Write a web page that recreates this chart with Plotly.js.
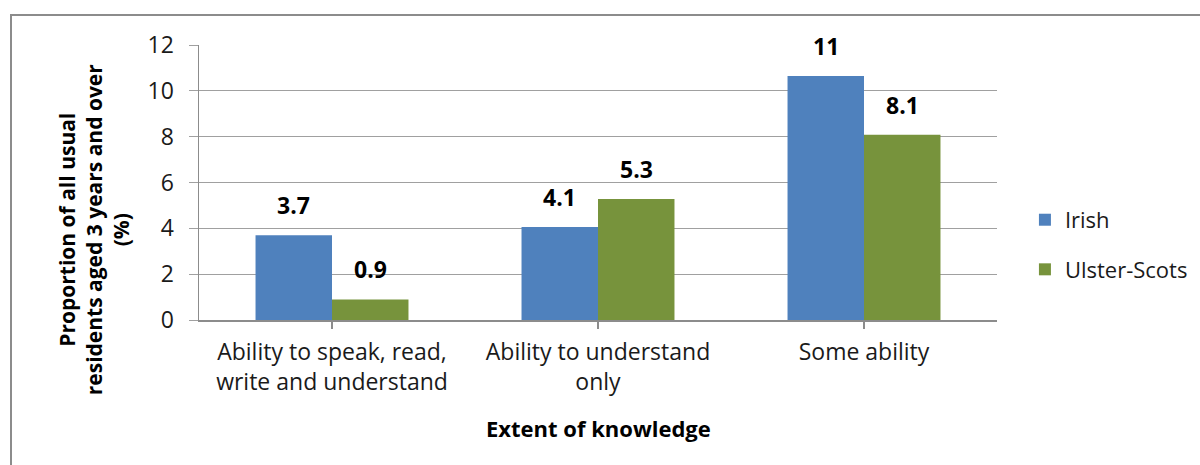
<!DOCTYPE html>
<html>
<head>
<meta charset="utf-8">
<script src="https://cdn.plot.ly/plotly-3.0.1.min.js"></script>
<style>
  html, body { margin: 0; padding: 0; background: #fff; }
  #frame { position: absolute; left: 10px; top: 14px; width: 1200px; height: 470px;
           border-top: 2px solid #8c8c8c; border-left: 2px solid #8c8c8c; box-sizing: border-box; }
  #chart { position: absolute; left: 0; top: 0; width: 1200px; height: 465px; }
</style>
</head>
<body>
<div id="frame"></div>
<div id="chart"></div>
<script>
// Knowledge of Irish and Ulster-Scots, share of usual residents aged 3+
const categories = [
  "Ability to speak, read,<br>write and understand",
  "Ability to understand<br>only",
  "Some ability"
];
const irish = [3.7, 4.06, 10.65];
const ulsterScots = [0.9, 5.28, 8.08];
const seriesNames = ["Irish", "Ulster-Scots"];
const yTicks = [0, 2, 4, 6, 8, 10, 12];
const yTitle = "Proportion of all usual<br>residents aged 3 years and over<br>(%)";
const xTitle = "Extent of knowledge";

const FONT = "'Open Sans', Lato, sans-serif";
const INK = "#1a1a1a";
const colors = ["#4F81BD", "#77933C"];
const bargap = 0.425;

const series = [irish, ulsterScots];
const traces = series.map((vals, s) => ({
  type: "bar",
  name: seriesNames[s],
  legendgroup: "g" + s,
  x: categories.map((_, i) => i),
  y: vals,
  marker: { color: colors[s], line: { width: 0 } },
  hoverinfo: "y"
}));

// value labels above each bar, positioned on the axis scale
const barW = (1 - bargap) / series.length;
const annotations = [];
series.forEach((vals, s) => {
  vals.forEach((v, i) => {
    annotations.push({
      xref: "x", yref: "y",
      x: i - (1 - bargap) / 2 + barW * (s + 0.5),
      y: v,
      yshift: 30,
      text: String(Number(v.toPrecision(2))),
      showarrow: false,
      font: { family: FONT, size: 23, color: "#000", weight: "bold" }
    });
  });
});

// axis titles
annotations.push({
  xref: "paper", yref: "paper", x: 0, y: 0.33, xshift: -105,
  xanchor: "center", yanchor: "middle", textangle: -90,
  text: yTitle, showarrow: false,
  font: { family: FONT, size: 21, color: "#000", weight: "bold" }
});
annotations.push({
  xref: "paper", yref: "paper", x: 0.5, y: -0.393,
  xanchor: "center", yanchor: "middle",
  text: xTitle, showarrow: false,
  font: { family: FONT, size: 22, color: "#000", weight: "bold" }
});

const layout = {
  width: 1200, height: 465,
  paper_bgcolor: "rgba(0,0,0,0)",
  plot_bgcolor: "rgba(0,0,0,0)",
  margin: { l: 199, r: 203, t: 45, b: 145, autoexpand: false },
  barmode: "group",
  bargap: bargap,
  bargroupgap: 0,
  showlegend: true,
  legend: {
    x: 1.035, xanchor: "left", y: 0.273, yanchor: "middle",
    font: { family: FONT, size: 22, color: INK },
    tracegroupgap: 18,
    itemwidth: 30
  },
  xaxis: {
    tickmode: "array",
    tickvals: [0, 1, 2],
    ticktext: categories,
    range: [-0.5, 2.5],
    showgrid: false,
    showline: true, linecolor: "#8c8c8c", linewidth: 1.5,
    ticks: "outside", ticklen: 7, tickcolor: "#8c8c8c", tickwidth: 1.5,
    tickson: "boundaries",
    ticklabelstandoff: 4,
    tickfont: { family: FONT, size: 23, color: INK },
    automargin: false,
    fixedrange: true
  },
  yaxis: {
    range: [0, 12],
    tickmode: "array",
    tickvals: yTicks,
    showgrid: true, gridcolor: "#a0a0a0", gridwidth: 1,
    showline: true, linecolor: "#8c8c8c", linewidth: 1.5,
    ticks: "outside", ticklen: 9, tickcolor: "#a0a0a0",
    zeroline: false,
    ticklabelstandoff: 10,
    tickfont: { family: FONT, size: 23, color: INK },
    automargin: false,
    fixedrange: true
  },
  annotations: annotations
};

Plotly.newPlot("chart", traces, layout, { displayModeBar: false, staticPlot: true });
</script>
</body>
</html>
